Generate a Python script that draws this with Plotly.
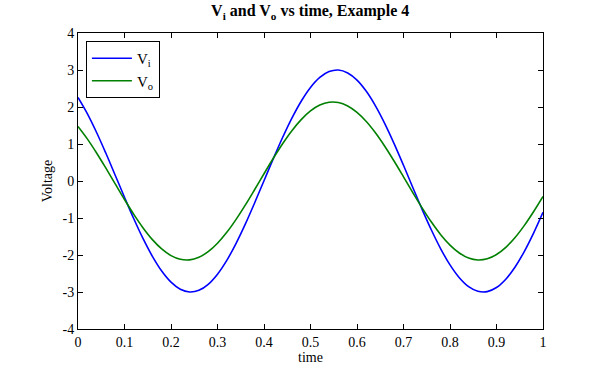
import plotly.graph_objects as go

time = [round(0.02 * k, 2) for k in range(51)]
v_in = [2.257, 1.820, 1.311, 0.749, 0.157, -0.440, -1.021, -1.560, -2.037, -2.434,
        -2.734, -2.925, -2.999, -2.954, -2.792, -2.518, -2.145, -1.685, -1.160, -0.587,
        0.008, 0.604, 1.175, 1.699, 2.156, 2.528, 2.798, 2.957, 2.999, 2.921,
        2.727, 2.424, 2.025, 1.546, 1.005, 0.424, -0.174, -0.765, -1.325, -1.833,
        -2.268, -2.613, -2.854, -2.980, -2.989, -2.879, -2.654, -2.323, -1.900, -1.401,
        -0.847]
v_out = [1.475, 1.139, 0.758, 0.347, -0.078, -0.500, -0.902, -1.268, -1.584, -1.836,
         -2.016, -2.115, -2.131, -2.061, -1.909, -1.682, -1.388, -1.038, -0.647, -0.230,
         0.196, 0.614, 1.008, 1.361, 1.660, 1.894, 2.052, 2.128, 2.120, 2.027,
         1.854, 1.607, 1.296, 0.933, 0.533, 0.113, -0.313, -0.726, -1.110, -1.450,
         -1.732, -1.945, -2.081, -2.134, -2.103, -1.987, -1.793, -1.527, -1.200, -0.825,
         -0.418]
x_ticks = [0, 0.1, 0.2, 0.3, 0.4, 0.5, 0.6, 0.7, 0.8, 0.9, 1]
x_tick_labels = ["0", "0.1", "0.2", "0.3", "0.4", "0.5", "0.6", "0.7", "0.8", "0.9", "1"]
y_ticks = [-4, -3, -2, -1, 0, 1, 2, 3, 4]
y_tick_labels = ["-4", "-3", "-2", "-1", "0", "1", "2", "3", "4"]

FONT = "Liberation Serif, Times New Roman, serif"

fig = go.Figure()
fig.add_trace(go.Scatter(x=time, y=v_in, mode="lines", name="V<sub>i</sub>",
                         line=dict(color="rgb(0,0,255)", width=1.6, shape="spline")))
fig.add_trace(go.Scatter(x=time, y=v_out, mode="lines", name="V<sub>o</sub>",
                         line=dict(color="rgb(0,128,0)", width=1.6, shape="spline")))

axis_common = dict(showline=True, linecolor="black", linewidth=1, mirror="ticks",
                   ticks="inside", ticklen=5, tickcolor="black", showgrid=False,
                   zeroline=False, automargin=False,
                   tickfont=dict(family=FONT, size=14, color="black"))

fig.update_layout(
    width=600, height=371,
    margin=dict(l=78, r=57, t=33, b=42),
    paper_bgcolor="white", plot_bgcolor="white",
    title=dict(text="<b>V<sub>i</sub> and V<sub>o</sub> vs time, Example 4</b>",
               x=0.517, xanchor="center", xref="container",
               y=1 - 5 / 371, yanchor="top", yref="container",
               font=dict(family=FONT, size=16, color="black")),
    xaxis=dict(range=[0, 1], tickvals=x_ticks, ticktext=x_tick_labels,
               title=dict(text="time", font=dict(family=FONT, size=14, color="black"), standoff=3),
               **axis_common),
    yaxis=dict(range=[-4, 4], tickvals=y_ticks, ticktext=y_tick_labels,
               title=dict(text="Voltage", font=dict(family=FONT, size=14, color="black"), standoff=6),
               **axis_common),
    legend=dict(x=0.017, y=0.973, xanchor="left", yanchor="top",
                bordercolor="black", borderwidth=1, bgcolor="white",
                font=dict(family=FONT, size=15, color="black"),
                tracegroupgap=0, itemwidth=40),
    showlegend=True,
)

fig.write_html("out.html", config={"displayModeBar": False},
               post_script="document.body.style.margin='0px';")
